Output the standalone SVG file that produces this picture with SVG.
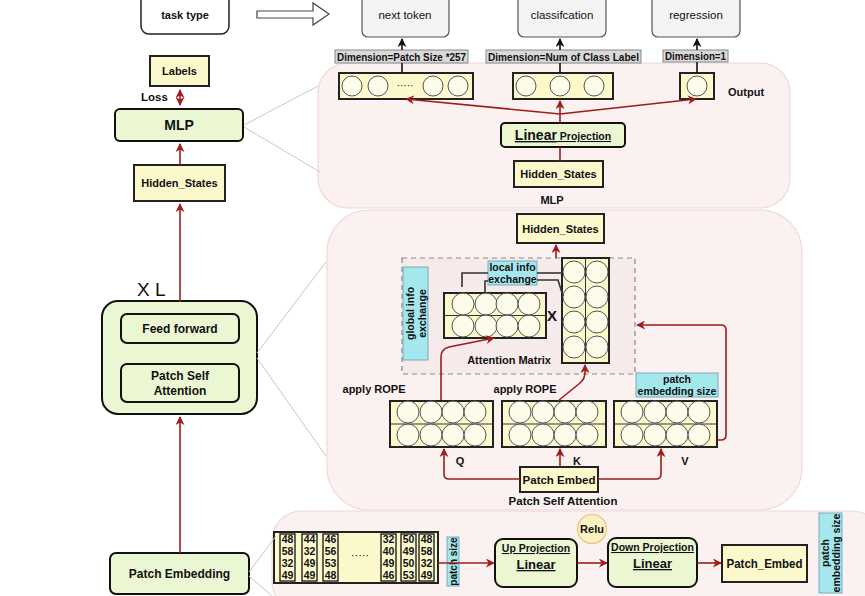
<svg xmlns="http://www.w3.org/2000/svg" width="865" height="596" viewBox="0 0 865 596">
<defs>
<style>
text{font-family:"Liberation Sans",Arial,sans-serif;fill:#111;}
.b{font-weight:bold;}
.c{text-anchor:middle;}
.panel{fill:#fcf1f1;stroke:#f0d8da;stroke-width:1.2;}
.yel{fill:#fbf8cc;stroke:#222;stroke-width:2;}
.grn{fill:#ebf7d3;stroke:#111;stroke-width:2;}
.cyan{fill:#a4e7ec;stroke:#7ab;stroke-width:1;}
.task{fill:#f4f4f4;stroke:#555;stroke-width:1.2;}
.dim{fill:#d9d9d9;stroke:#888;stroke-width:1;}
.cir{fill:#fff;fill-opacity:0.6;stroke:#555;stroke-width:1;}
.red{fill:none;stroke:#9e1c1c;stroke-width:1.6;}
.blk{fill:none;stroke:#111;stroke-width:1.6;}
.gray{fill:none;stroke:#c8c8c8;stroke-width:1;}
.brk{fill:none;stroke:#333;stroke-width:1.6;}
.num{font-size:10.5px;font-weight:bold;}
</style>
<marker id="ar" viewBox="0 0 10 10" refX="9" refY="5" markerWidth="9" markerHeight="9" markerUnits="userSpaceOnUse" orient="auto-start-reverse"><path d="M0,0 L10,5 L0,10 L3,5 z" fill="#9e1c1c"/></marker>
<marker id="ab" viewBox="0 0 10 10" refX="9" refY="5" markerWidth="9" markerHeight="9" markerUnits="userSpaceOnUse" orient="auto"><path d="M0,0 L10,5 L0,10 L3,5 z" fill="#111"/></marker>
</defs>

<!-- panels -->
<g id="panels">
<rect class="panel" x="318" y="63" width="472" height="145" rx="30"/>
<rect class="panel" x="327" y="210" width="475" height="300" rx="42"/>
<rect class="panel" x="272" y="511" width="610" height="100" rx="30"/>
</g>

<!-- top row -->
<g id="task-type">
<rect x="141" y="-10" width="88" height="44" rx="8" fill="#fff" stroke="#222" stroke-width="1.5"/>
<text class="b c" x="185" y="19" font-size="11">task type</text>
</g>
<g id="hollow-arrow">
<path d="M257,11 H313 V3 L329,14 L313,25 V18 H257 z" fill="#fff" stroke="#444" stroke-width="1.2"/>
</g>
<g id="next-token">
<rect class="task" x="362" y="-10" width="87" height="47" rx="6"/>
<text class="c" x="405" y="19" font-size="11.5" fill="#333">next token</text>
</g>
<g id="classification">
<rect class="task" x="518" y="-10" width="88" height="47" rx="6"/>
<text class="c" x="562" y="19" font-size="11.5" fill="#333">classifcation</text>
</g>
<g id="regression">
<rect class="task" x="652" y="-10" width="88" height="47" rx="6"/>
<text class="c" x="696" y="19" font-size="11.5" fill="#333">regression</text>
</g>

<!-- dimension labels -->
<g id="dim-patch">
<rect class="dim" x="335" y="50" width="133" height="13"/>
<text class="b c" x="401.5" y="60.5" font-size="10.5" textLength="129" lengthAdjust="spacingAndGlyphs">Dimension=Patch Size *257</text>
</g>
<g id="dim-class">
<rect class="dim" x="486" y="50" width="155" height="13"/>
<text class="b c" x="563.5" y="60.5" font-size="10.5" textLength="151" lengthAdjust="spacingAndGlyphs">Dimension=Num of Class Label</text>
</g>
<g id="dim-one">
<rect class="dim" x="663" y="50" width="65" height="12"/>
<text class="b c" x="695.5" y="60" font-size="10.5" textLength="61" lengthAdjust="spacingAndGlyphs">Dimension=1</text>
</g>

<!-- output vectors -->
<g id="out-next">
<rect class="yel" x="339" y="73" width="134" height="26"/>
<circle class="cir" cx="352" cy="86" r="10"/>
<circle class="cir" cx="378" cy="86" r="10"/>
<circle class="cir" cx="433" cy="86" r="10"/>
<circle class="cir" cx="458" cy="86" r="10"/>
<text class="c" x="405" y="89" font-size="10">·····</text>
</g>
<g id="out-class">
<rect class="yel" x="513" y="73" width="100" height="26"/>
<circle class="cir" cx="526" cy="86" r="10"/>
<circle class="cir" cx="560" cy="86" r="10"/>
<circle class="cir" cx="594" cy="86" r="10"/>
</g>
<g id="out-reg">
<rect class="yel" x="680" y="73" width="34" height="26"/>
<circle class="cir" cx="697" cy="86" r="10"/>
</g>
<text class="b" x="728" y="96" font-size="11">Output</text>

<g id="linear-projection">
<rect class="grn" x="501" y="123" width="124" height="24" rx="4"/>
<text class="b c" x="563" y="140" text-decoration="underline"><tspan font-size="14">Linear</tspan><tspan font-size="10.5"> Projection</tspan></text>
</g>
<g id="mlp-hidden">
<rect class="yel" x="514" y="161" width="89" height="26"/>
<text class="b c" x="558.5" y="178" font-size="11">Hidden_States</text>
</g>
<text class="b c" x="552" y="204" font-size="11">MLP</text>

<!-- left column -->
<g id="labels">
<rect class="yel" x="150" y="56" width="59" height="30"/>
<text class="b c" x="179.5" y="75" font-size="11">Labels</text>
</g>
<text class="b" x="141" y="101" font-size="11.5">Loss</text>
<g id="mlp">
<rect class="grn" x="115" y="109" width="128" height="32" rx="5"/>
<text class="b c" x="179" y="130" font-size="14">MLP</text>
</g>
<g id="hidden-states">
<rect class="yel" x="134" y="165" width="91" height="36"/>
<text class="b c" x="179.5" y="187" font-size="11">Hidden_States</text>
</g>
<text x="137" y="296" font-size="19">X L</text>
<g id="block">
<rect class="grn" x="102" y="301" width="155" height="113" rx="16"/>
<rect class="grn" x="121" y="314" width="118" height="29" rx="6"/>
<text class="b c" x="180" y="333" font-size="12">Feed forward</text>
<rect class="grn" x="121" y="364" width="118" height="38" rx="6"/>
<text class="b c" x="180" y="380" font-size="12">Patch Self</text>
<text class="b c" x="180" y="395" font-size="12">Attention</text>
</g>
<g id="patch-embedding">
<rect class="grn" x="110" y="553" width="139" height="41" rx="6"/>
<text class="b c" x="179.5" y="578" font-size="12">Patch Embedding</text>
</g>

<!-- attention panel -->
<g id="attn-hidden">
<rect class="yel" x="517" y="214" width="87" height="29"/>
<text class="b c" x="560.5" y="233" font-size="11">Hidden_States</text>
</g>
<g id="attention-box">
<rect x="402" y="258" width="233" height="116" fill="#f2e6e8" fill-opacity="0.6" stroke="#888" stroke-width="1.2" stroke-dasharray="5,4"/>
</g>
<g id="global-info">
<rect class="cyan" x="403" y="267" width="25" height="93"/>
<text class="b c" transform="translate(415.5,313.5) rotate(-90)" font-size="10.5" fill="#333"><tspan x="0" y="-2">global info</tspan><tspan x="0" y="10">exchange</tspan></text>
</g>
<g id="local-info">
<rect class="cyan" x="488" y="261" width="49" height="24"/>
<text class="b c" x="512.5" y="271" font-size="10.5" fill="#333">local info</text>
<text class="b c" x="512.5" y="283" font-size="10.5" fill="#333">exchange</text>
</g>
<g id="attention-matrix">
<rect class="yel" x="444" y="293" width="102" height="45"/>
<line x1="444" y1="315.5" x2="546" y2="315.5" stroke="#333" stroke-width="1"/>
<circle class="cir" cx="463" cy="304" r="11"/><circle class="cir" cx="486" cy="304" r="11"/><circle class="cir" cx="507" cy="304" r="11"/><circle class="cir" cx="529" cy="304" r="11"/>
<circle class="cir" cx="463" cy="326" r="11"/><circle class="cir" cx="486" cy="326" r="11"/><circle class="cir" cx="507" cy="326" r="11"/><circle class="cir" cx="529" cy="326" r="11"/>
</g>
<text class="b c" x="552" y="321" font-size="15" fill="#333">X</text>
<g id="k-transpose">
<rect class="yel" x="562" y="258" width="47" height="105"/>
<line x1="585.5" y1="258" x2="585.5" y2="363" stroke="#333" stroke-width="1"/>
<circle class="cir" cx="574" cy="272" r="11"/><circle class="cir" cx="597" cy="272" r="11"/>
<circle class="cir" cx="574" cy="297" r="11"/><circle class="cir" cx="597" cy="297" r="11"/>
<circle class="cir" cx="574" cy="322" r="11"/><circle class="cir" cx="597" cy="322" r="11"/>
<circle class="cir" cx="574" cy="347" r="11"/><circle class="cir" cx="597" cy="347" r="11"/>
</g>
<text class="b c" x="509" y="364" font-size="11">Attention Matrix</text>
<text class="b c" x="374" y="393" font-size="11">apply ROPE</text>
<text class="b c" x="525" y="393" font-size="11" fill="#555">apply ROPE</text>

<g id="q-vec">
<rect class="yel" x="390" y="401" width="103" height="46"/>
<line x1="390" y1="424" x2="493" y2="424" stroke="#333" stroke-width="1"/>
<circle class="cir" cx="408" cy="412" r="11"/><circle class="cir" cx="431" cy="412" r="11"/><circle class="cir" cx="453" cy="412" r="11"/><circle class="cir" cx="475" cy="412" r="11"/>
<circle class="cir" cx="408" cy="435" r="11"/><circle class="cir" cx="431" cy="435" r="11"/><circle class="cir" cx="453" cy="435" r="11"/><circle class="cir" cx="475" cy="435" r="11"/>
</g>
<g id="k-vec">
<rect class="yel" x="502" y="401" width="104" height="46"/>
<line x1="502" y1="424" x2="606" y2="424" stroke="#333" stroke-width="1"/>
<circle class="cir" cx="520" cy="412" r="11"/><circle class="cir" cx="543" cy="412" r="11"/><circle class="cir" cx="565" cy="412" r="11"/><circle class="cir" cx="587" cy="412" r="11"/>
<circle class="cir" cx="520" cy="435" r="11"/><circle class="cir" cx="543" cy="435" r="11"/><circle class="cir" cx="565" cy="435" r="11"/><circle class="cir" cx="587" cy="435" r="11"/>
</g>
<g id="v-vec">
<rect class="yel" x="614" y="401" width="103" height="46"/>
<line x1="614" y1="424" x2="717" y2="424" stroke="#333" stroke-width="1"/>
<circle class="cir" cx="632" cy="412" r="11"/><circle class="cir" cx="655" cy="412" r="11"/><circle class="cir" cx="677" cy="412" r="11"/><circle class="cir" cx="699" cy="412" r="11"/>
<circle class="cir" cx="632" cy="435" r="11"/><circle class="cir" cx="655" cy="435" r="11"/><circle class="cir" cx="677" cy="435" r="11"/><circle class="cir" cx="699" cy="435" r="11"/>
</g>
<g id="patch-emb-size">
<rect class="cyan" x="636" y="373" width="82" height="24"/>
<text class="b c" x="677" y="383" font-size="10.5" fill="#333">patch</text>
<text class="b c" x="677" y="395" font-size="10.5" fill="#333">embedding size</text>
</g>
<text class="b c" x="460" y="465" font-size="11">Q</text>
<text class="b c" x="577" y="465" font-size="11">K</text>
<text class="b c" x="685" y="465" font-size="11">V</text>
<g id="patch-embed">
<rect class="yel" x="520" y="467" width="78" height="25"/>
<text class="b c" x="559" y="484" font-size="11.5">Patch Embed</text>
</g>
<text class="b c" x="563" y="505" font-size="11.5">Patch Self Attention</text>

<!-- bottom panel -->
<g id="patch-matrix">
<rect class="yel" x="274" y="532" width="164" height="51"/>
<rect x="280" y="534" width="15" height="47" fill="none" stroke="#111" stroke-width="1.3"/>
<rect x="302" y="534" width="15" height="47" fill="none" stroke="#111" stroke-width="1.3"/>
<rect x="323" y="534" width="15" height="47" fill="none" stroke="#111" stroke-width="1.3"/>
<rect x="381" y="534" width="15" height="47" fill="none" stroke="#111" stroke-width="1.3"/>
<rect x="401" y="534" width="15" height="47" fill="none" stroke="#111" stroke-width="1.3"/>
<rect x="419" y="534" width="15" height="47" fill="none" stroke="#111" stroke-width="1.3"/>
<text class="num c" x="287.5" y="543">48</text><text class="num c" x="287.5" y="555">58</text><text class="num c" x="287.5" y="567">32</text><text class="num c" x="287.5" y="579">49</text>
<text class="num c" x="309.5" y="543">44</text><text class="num c" x="309.5" y="555">32</text><text class="num c" x="309.5" y="567">49</text><text class="num c" x="309.5" y="579">49</text>
<text class="num c" x="330.5" y="543">46</text><text class="num c" x="330.5" y="555">56</text><text class="num c" x="330.5" y="567">53</text><text class="num c" x="330.5" y="579">48</text>
<text class="c" x="360" y="559" font-size="11">·····</text>
<text class="num c" x="388.5" y="543">32</text><text class="num c" x="388.5" y="555">40</text><text class="num c" x="388.5" y="567">49</text><text class="num c" x="388.5" y="579">46</text>
<text class="num c" x="408.5" y="543">50</text><text class="num c" x="408.5" y="555">49</text><text class="num c" x="408.5" y="567">50</text><text class="num c" x="408.5" y="579">53</text>
<text class="num c" x="426.5" y="543">48</text><text class="num c" x="426.5" y="555">58</text><text class="num c" x="426.5" y="567">32</text><text class="num c" x="426.5" y="579">49</text>
</g>
<g id="patch-size">
<rect class="cyan" x="447" y="537" width="12" height="49"/>
<text class="b c" transform="translate(456.5,561.5) rotate(-90)" font-size="10" fill="#333">patch size</text>
</g>
<g id="up-projection">
<rect class="grn" x="495" y="539" width="82" height="48" rx="8"/>
<text class="b c" x="536" y="552" font-size="10.5" fill="#1d3550" text-decoration="underline">Up Projection</text>
<text class="b c" x="536" y="569" font-size="13" fill="#1d3550" text-decoration="underline">Linear</text>
</g>
<g id="relu">
<circle cx="592" cy="529" r="14.5" fill="#fcefc2" stroke="#e6c77a" stroke-width="1.2"/>
<text class="b c" x="592" y="533" font-size="11">Relu</text>
</g>
<g id="down-projection">
<rect class="grn" x="608" y="538" width="89" height="49" rx="8"/>
<text class="b c" x="652.5" y="551" font-size="10.5" fill="#1d3550" text-decoration="underline">Down Projection</text>
<text class="b c" x="652.5" y="568" font-size="13" fill="#1d3550" text-decoration="underline">Linear</text>
</g>
<g id="patch-embed-out">
<rect class="yel" x="722" y="545" width="85" height="37"/>
<text class="b c" x="764.5" y="568" font-size="13" textLength="76" lengthAdjust="spacingAndGlyphs">Patch_Embed</text>
</g>
<g id="patch-emb-size-2">
<rect class="cyan" x="819" y="513" width="23" height="80"/>
<text class="b c" transform="translate(830.5,553) rotate(-90)" font-size="10.5" fill="#333"><tspan x="0" y="-2">patch</tspan><tspan x="0" y="9">embedding size</tspan></text>
</g>

<!-- connectors -->
<g id="connectors">
<path class="gray" d="M244,125 L318,86"/>
<path class="gray" d="M244,127 L320,172"/>
<path class="gray" d="M257,353 L326,262"/>
<path class="gray" d="M257,358 L326,456"/>
<path class="gray" d="M249,572 L276,536"/>
<path class="gray" d="M249,576 L272,596"/>
<path class="red" d="M180,90 V105" marker-start="url(#ar)" marker-end="url(#ar)"/>
<path class="red" d="M180,165 V144" marker-end="url(#ar)"/>
<path class="red" d="M180,302 V204" marker-end="url(#ar)"/>
<path class="red" d="M180,553 V417" marker-end="url(#ar)"/>
<path class="blk" d="M402,50 V39" marker-end="url(#ab)"/>
<path class="blk" d="M560,50 V39" marker-end="url(#ab)"/>
<path class="blk" d="M697,50 V39" marker-end="url(#ab)"/>
<path class="blk" d="M402,63 V73"/>
<path class="blk" d="M560,63 V73"/>
<path class="blk" d="M697,62 V73"/>
<path class="red" d="M560,161 V147"/>
<path class="red" d="M560,123 V101" marker-end="url(#ar)"/>
<path class="red" d="M560,114 L406,99" marker-end="url(#ar)"/>
<path class="red" d="M560,114 L696,99" marker-end="url(#ar)"/>
<path class="red" d="M556,258 V245" marker-end="url(#ar)"/>
<path class="red" d="M441,400 V357 Q441,349 449,347 L494,338" marker-end="url(#ar)"/>
<path class="red" d="M558,401 L580,383 Q585,379 585,372 V365" marker-end="url(#ar)"/>
<path class="red" d="M717,440 H721 Q726,440 726,435 V330 Q726,325 721,325 H637" marker-end="url(#ar)"/>
<path class="red" d="M520,479 H449 Q444,479 444,474 V449" marker-end="url(#ar)"/>
<path class="red" d="M560,467 V449" marker-end="url(#ar)"/>
<path class="red" d="M598,479 H656 Q661,479 661,474 V449" marker-end="url(#ar)"/>
<path class="red" d="M438,563 H494" marker-end="url(#ar)"/>
<path class="red" d="M577,563 H607" marker-end="url(#ar)"/>
<path class="red" d="M697,563 H721" marker-end="url(#ar)"/>
<path class="brk" d="M462,287 V273 H488"/>
<path class="brk" d="M537,273 H562"/>
<path class="brk" d="M485,292 V281 H488"/>
<path class="brk" d="M537,280 H558 L563,296"/>
</g>
</svg>
